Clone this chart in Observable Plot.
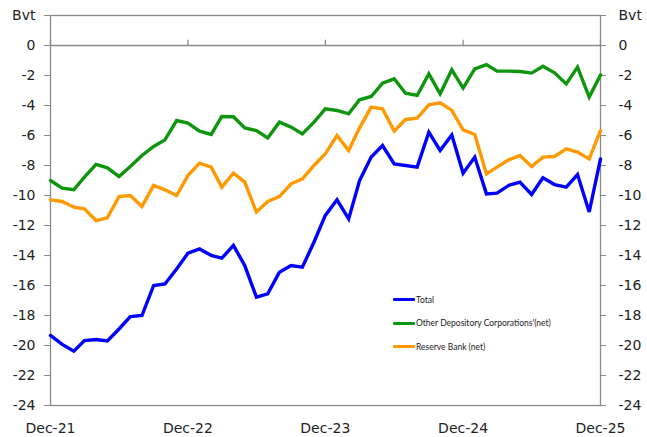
<!DOCTYPE html>
<html>
<head>
<meta charset="utf-8">
<script src="https://cdn.jsdelivr.net/npm/d3@7"></script>
<script src="https://cdn.jsdelivr.net/npm/@observablehq/plot@0.6"></script>
<style>
  html, body { margin: 0; padding: 0; background: #fff; }
  #wrap { position: relative; width: 647px; height: 437px; }
  #legend { position: absolute; left: 393px; top: 288px; font-family: Lato, "DejaVu Sans", sans-serif; font-size: 8.5px; color: #222; }
  #legend .row { display: flex; align-items: center; height: 23.5px; }
  #legend .sw { width: 22px; height: 3px; margin-right: 1px; border-radius: 1px; }
</style>
</head>
<body>
<div id="wrap"><div id="legend"></div></div>
<script>
// Monthly, Dec-21 .. Dec-25 (49 points)
const months = d3.utcMonth.range(new Date(Date.UTC(2021, 11, 1)), new Date(Date.UTC(2026, 0, 1)));

const total = [
  -19.33, -19.93, -20.38, -19.67, -19.6, -19.7, -18.9, -18.07, -18.0, -16.0,
  -15.9, -14.9, -13.85, -13.56, -14.0, -14.18, -13.33, -14.67, -16.78, -16.56,
  -15.11, -14.67, -14.78, -13.1, -11.33, -10.29, -11.56, -9.0, -7.44, -6.67,
  -7.89, -8.0, -8.11, -5.78, -7.0, -5.96, -8.51, -7.44, -9.89, -9.84,
  -9.33, -9.11, -9.93, -8.82, -9.27, -9.44, -8.6, -11.1, -7.56
];
const odc = [
  -9.0, -9.51, -9.62, -8.78, -7.93, -8.16, -8.73, -8.07, -7.33, -6.73,
  -6.29, -5.0, -5.18, -5.71, -5.93, -4.73, -4.75, -5.49, -5.67, -6.16,
  -5.11, -5.44, -5.89, -5.11, -4.22, -4.33, -4.56, -3.62, -3.4, -2.51,
  -2.22, -3.18, -3.33, -1.89, -3.22, -1.62, -2.84, -1.56, -1.27, -1.71,
  -1.71, -1.73, -1.84, -1.38, -1.82, -2.56, -1.44, -3.44, -1.96
];
const rba = [
  -10.29, -10.4, -10.78, -10.89, -11.67, -11.49, -10.07, -10.0, -10.73, -9.33,
  -9.62, -10.0, -8.67, -7.84, -8.11, -9.44, -8.51, -9.11, -11.11, -10.4,
  -10.07, -9.22, -8.89, -8.0, -7.22, -6.0, -7.0, -5.49, -4.11, -4.22,
  -5.71, -4.93, -4.84, -3.96, -3.82, -4.33, -5.62, -5.93, -8.56, -8.11,
  -7.62, -7.33, -8.07, -7.44, -7.4, -6.89, -7.11, -7.56, -5.67
];

const seriesNames = ["Total", "Other Depository Corporations'(net)", "Reserve Bank (net)"];
const seriesColors = ["#0000ff", "#0d960d", "#ff9900"];
const yTicks = d3.range(-24, 3, 2);
const xTicks = [0, 12, 24, 36, 48].map(i => months[i]);
const xLabel = d => d3.utcFormat("%b-%y")(d);
const yLabel = d => d === 2 ? "Bvt" : String(d);

const rows = [];
[total, odc, rba].forEach((arr, s) => arr.forEach((v, i) => rows.push({date: months[i], value: v, series: seriesNames[s]})));

const font = "DejaVu Sans, sans-serif";
const chart = Plot.plot({
  width: 647,
  height: 437,
  marginLeft: 50,
  marginRight: 47,
  marginTop: 15,
  marginBottom: 32,
  style: {fontFamily: font, fontSize: "14px", color: "#222", background: "#fff"},
  x: {type: "utc", domain: [months[0], months[48]]},
  y: {domain: [-24, 2]},
  color: {domain: seriesNames, range: seriesColors},
  marks: [
    Plot.frame({stroke: "#8a8a8a", strokeWidth: 1.3}),
    Plot.ruleY([0], {stroke: "#8a8a8a", strokeWidth: 1.3}),
    Plot.ruleX(xTicks, {y1: 0, y2: 0.35, stroke: "#8a8a8a", strokeWidth: 1.3}),
    Plot.axisY({anchor: "left", ticks: yTicks, tickFormat: yLabel, tickSize: 6, tickPadding: 9, stroke: "#8a8a8a", label: null, fill: "#222"}),
    Plot.axisY({anchor: "right", ticks: yTicks, tickFormat: yLabel, tickSize: 5, tickPadding: 13, stroke: "#8a8a8a", label: null, fill: "#222"}),
    Plot.axisX({ticks: xTicks, tickFormat: xLabel, tickSize: 0, tickPadding: 18, label: null, fill: "#222"}),
    Plot.line(rows, {x: "date", y: "value", z: "series", stroke: "series", strokeWidth: 3.4, strokeLinejoin: "miter", strokeMiterlimit: 3})
  ]
});
document.getElementById("wrap").prepend(chart);

const leg = document.getElementById("legend");
seriesNames.forEach((n, i) => {
  const r = document.createElement("div");
  r.className = "row";
  r.innerHTML = `<span class="sw" style="background:${seriesColors[i]}"></span><span>${n}</span>`;
  leg.appendChild(r);
});
</script>
</body>
</html>
